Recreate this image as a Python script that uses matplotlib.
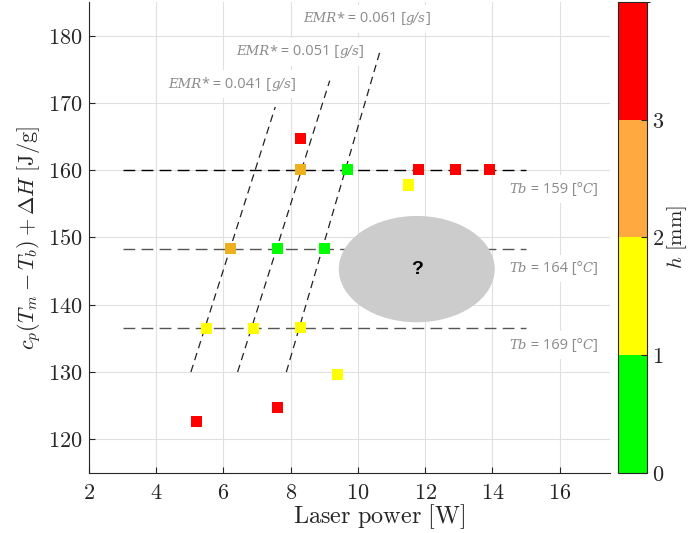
import numpy as np
import matplotlib
matplotlib.use('Agg')
import matplotlib.pyplot as plt
from matplotlib.colors import ListedColormap, BoundaryNorm
from matplotlib.patches import Ellipse
from matplotlib.ticker import FuncFormatter
from matplotlib.offsetbox import TextArea, HPacker, AnnotationBbox
import matplotlib.cm as cm

plt.rcParams['mathtext.fontset'] = 'cm'

# measured points: laser power [W], energy per mass [J/g], h class (0..3)
power = [5.2, 7.6, 9.4, 5.5, 6.9, 8.3, 6.2, 7.6, 9.0, 8.3, 8.3, 9.7, 11.8, 12.9, 13.9, 11.5]
energy = [122.6, 124.8, 129.7, 136.5, 136.5, 136.6, 148.3, 148.3, 148.3, 160.1, 164.7, 160.1, 160.1, 160.1, 160.1, 157.8]
h_class = [3, 3, 1, 1, 1, 1, 2, 0, 0, 2, 3, 0, 3, 3, 3, 1]
marker_cols = ['#00ff00', '#ffff00', '#edb120', '#ff0000']
cbar_cols = ['#00ff00', '#ffff00', '#ffa940', '#ff0000']

# constant Tb lines
tb_levels = [160.1, 148.3, 136.5]
tb_colors = ['#000000', '#555555', '#555555']
tb_xrange = [3, 15]
tb_labels = ['159', '164', '169']
tb_label_y = [157.2, 145.4, 134.0]

# constant EMR lines (start/end points)
emr_values = ['0.041', '0.051', '0.061']
emr_x = [[5.03, 7.54], [6.42, 9.16], [7.87, 10.67]]
emr_y = [[130.0, 169.4], [130.0, 173.3], [130.0, 177.9]]
emr_label_xy = [(6.25, 172.8), (8.27, 177.6), (10.26, 182.5)]

fig = plt.figure(figsize=(6.89, 5.33), dpi=100)
ax = fig.add_axes([0.1292, 0.1126, 0.7562, 0.8837])
cax = fig.add_axes([0.897, 0.1126, 0.0421, 0.8837])

axc = '#262626'
ax.set_xlim(2, 17.5)
ax.set_ylim(115, 185)
ax.set_xticks(np.arange(2, 17, 2))
ax.set_yticks(np.arange(120, 181, 10))
fmt = FuncFormatter(lambda v, p: r'$%d$' % v)
ax.xaxis.set_major_formatter(fmt)
ax.yaxis.set_major_formatter(fmt)
ax.tick_params(direction='in', length=4, width=0.8, colors=axc, labelsize=16)
ax.tick_params(axis='x', pad=7)
ax.tick_params(axis='y', pad=5)
for s in ['top', 'right']:
    ax.spines[s].set_visible(False)
for s in ['left', 'bottom']:
    ax.spines[s].set_color(axc)
    ax.spines[s].set_linewidth(0.8)
ax.grid(True, color='#e0e0e0', lw=0.8, zorder=0)
ax.set_axisbelow(True)

for lvl, c in zip(tb_levels, tb_colors):
    ax.plot(tb_xrange, [lvl, lvl], color=c, lw=1.0, dashes=(8.5, 4.5), zorder=2)
for xs, ys in zip(emr_x, emr_y):
    ax.plot(xs, ys, color='#222222', lw=0.9, dashes=(6, 4), zorder=2)

ax.scatter(power, energy, marker='s', s=63, c=[marker_cols[k] for k in h_class],
           linewidths=0, zorder=4)

# unexplored region
ax.add_patch(Ellipse((11.75, 145.3), 4.64, 15.8, facecolor='#cccccc', edgecolor='none', zorder=5))
ax.text(11.75, 145.3, '?', fontsize=14, fontweight='bold', family='Liberation Sans',
        ha='center', va='center', zorder=6)


def mixed_label(parts, xy, align):
    # parts: list of (text, italic?) pieces laid out side by side
    areas = []
    for txt, it in parts:
        if it:
            props = dict(family='DejaVu Serif', style='italic', fontsize=9.5, color='#8a8a8a')
        else:
            props = dict(family='Open Sans', fontsize=10.5, color='#8a8a8a')
        areas.append(TextArea(txt, textprops=props))
    row = HPacker(children=areas, pad=0, sep=0, align='baseline')
    ab = AnnotationBbox(row, xy, xycoords='data', box_alignment=align, frameon=True,
                        pad=0.45, bboxprops=dict(facecolor='white', edgecolor='none'))
    ab.set_zorder(3)
    ax.add_artist(ab)


for val, xy in zip(emr_values, emr_label_xy):
    mixed_label([('EMR', True), ('*', False), (' = ' + val + ' [', False), ('g/s', True), (']', False)],
                xy, (0.5, 0.5))
for lab, ly in zip(tb_labels, tb_label_y):
    mixed_label([('Tb', True), (' = ' + lab + ' [°', False), ('C', True), (']', False)],
                (17.13, ly), (1.0, 0.5))

ax.set_xlabel(r'$\mathrm{Laser\ power\ [W]}$', fontsize=17.5, color=axc, labelpad=0)
ax.xaxis.label.set_x(0.557)
ax.set_ylabel(r'$c_p(T_m-T_b)+\Delta H\ \mathrm{[J/g]}$', fontsize=16, color=axc, labelpad=3)

cmap = ListedColormap(cbar_cols)
norm = BoundaryNorm([0, 1, 2, 3, 4], cmap.N)
cb = fig.colorbar(cm.ScalarMappable(norm=norm, cmap=cmap), cax=cax, ticks=[0, 1, 2, 3])
cb.ax.yaxis.set_major_formatter(fmt)
cb.ax.tick_params(direction='in', length=4, width=0.8, colors=axc, labelsize=16)
cb.outline.set_edgecolor(axc)
cb.outline.set_linewidth(0.8)
cb.set_label(r'$h\ \mathrm{[mm]}$', fontsize=15, color=axc, labelpad=1)

fig.savefig('out.png', dpi=100)
